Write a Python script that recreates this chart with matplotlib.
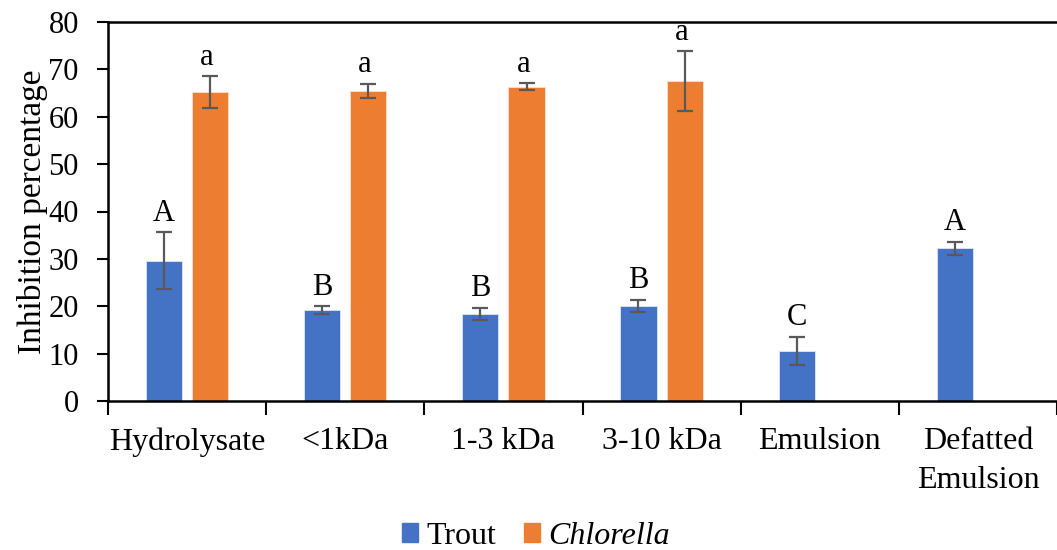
import numpy as np
import matplotlib.pyplot as plt
from matplotlib.patches import Patch

# datos
categories = ["Hydrolysate", "<1kDa", "1-3 kDa", "3-10 kDa", "Emulsion", "Defatted\nEmulsion"]
trout = [29.6, 19.2, 18.4, 20.0, 10.5, 32.2]
trout_err = [6.0, 0.8, 1.25, 1.3, 3.0, 1.45]
trout_letters = ["A", "B", "B", "B", "C", "A"]
chlorella = [65.2, 65.5, 66.3, 67.5, None, None]
chlorella_err = [3.35, 1.45, 0.75, 6.3, None, None]
chlorella_letters = ["a", "a", "a", "a", None, None]

plt.rcParams['font.family'] = ['Liberation Serif', 'DejaVu Serif']
blue = '#4472C4'
orange = '#ED7D31'
errc = '#595959'
fs = 23

fig = plt.figure(figsize=(10.57, 5.5), dpi=100)
ax = fig.add_axes([108 / 1057, 1 - 401 / 550, 1 - 108 / 1057, 379 / 550])

x = np.arange(len(categories))
w = 0.228
off = 0.146

ax.bar(x - off, trout, w, color=blue, edgecolor='#dfe6f5', linewidth=0.6,
       yerr=trout_err, ecolor=errc, capsize=6, error_kw={'elinewidth': 1.6, 'capthick': 1.6})
for i, (v, e, t) in enumerate(zip(trout, trout_err, trout_letters)):
    ax.text(x[i] - off, v + e + 1.0, t, ha='center', va='bottom', fontsize=22)

xc = [i for i in range(len(categories)) if chlorella[i] is not None]
ax.bar(x[xc] + off, [chlorella[i] for i in xc], w, color=orange, edgecolor='#fbe0cf', linewidth=0.6,
       yerr=[chlorella_err[i] for i in xc], ecolor=errc, capsize=6,
       error_kw={'elinewidth': 1.6, 'capthick': 1.6})
for i in xc:
    ax.text(x[i] + off - 0.02, chlorella[i] + chlorella_err[i] + 1.0, chlorella_letters[i],
            ha='center', va='bottom', fontsize=22)

ax.set_xlim(-0.5, len(categories) - 0.5)
ax.set_ylim(0, 80)
ax.set_yticks(range(0, 81, 10))
ax.set_xticks(x)
ax.set_xticklabels(categories, fontsize=fs, linespacing=1.45)
ax.set_xticks(np.arange(-0.5, len(categories), 1), minor=True)
ax.tick_params(axis='x', which='major', length=0, pad=19)
ax.tick_params(axis='x', which='minor', length=10, width=1.5, direction='out')
ax.tick_params(axis='y', labelsize=22, length=8, width=1.5, direction='out', pad=13)

for s in ['left', 'bottom', 'top']:
    ax.spines[s].set_linewidth(1.8)
ax.spines['right'].set_visible(False)

ax.set_ylabel("Inhibition percentage", fontsize=24, labelpad=0)

handles = [Patch(color=blue, label='Trout'), Patch(color=orange, label='Chlorella')]
leg = fig.legend(handles=handles, loc='center', bbox_to_anchor=(536 / 1057, 1 - 536 / 550), ncol=2,
                 frameon=False, fontsize=fs, handlelength=0.5, handleheight=0.55,
                 handletextpad=0.28, columnspacing=0.85, borderpad=0.1)
leg.get_texts()[1].set_style('italic')

fig.savefig('out.png', dpi=100)
